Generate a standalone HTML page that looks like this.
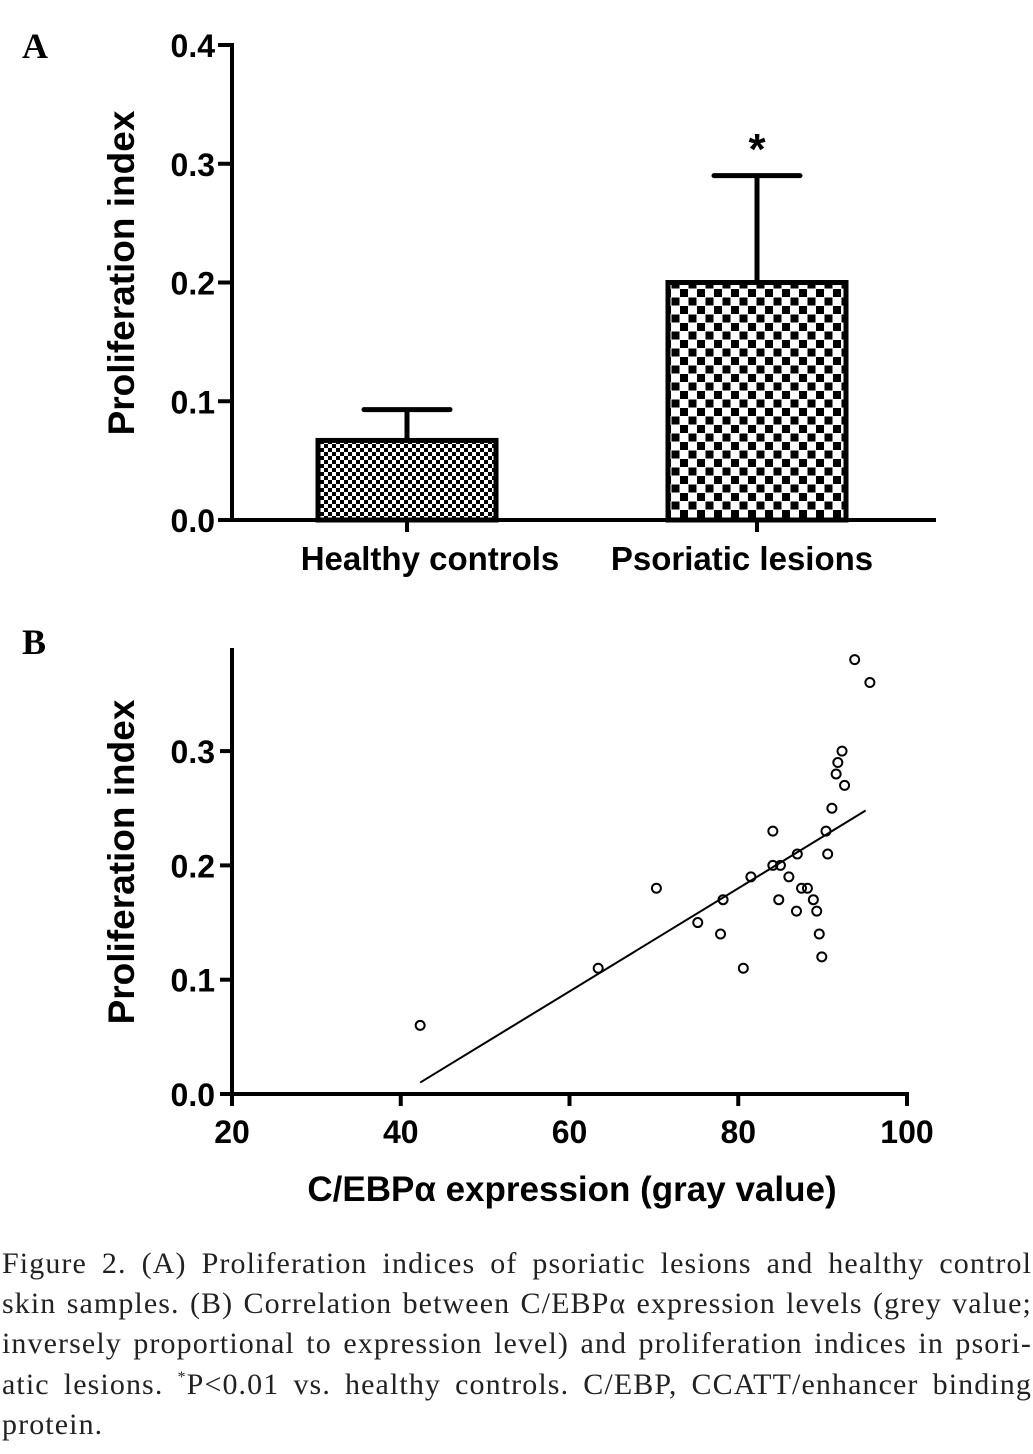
<!DOCTYPE html>
<html><head><meta charset="utf-8">
<style>
body{margin:0;background:#fff;width:1033px;height:1454px;overflow:hidden;position:relative}
svg{position:absolute;left:0;top:0}
.cap{position:absolute;left:2px;top:1244px;width:1030px;font-family:"Liberation Serif",serif;font-size:30px;line-height:40.2px;color:#222;letter-spacing:1.1px}
.cap div{text-align:justify;text-align-last:justify;white-space:nowrap;height:40.2px}
.cap div.last{text-align-last:left}
.cap sup{font-size:16px;line-height:0;vertical-align:12px}
</style></head>
<body>
<svg id="fig" width="1033" height="1240">
<defs>
<pattern id="pSmall" width="8" height="8" patternUnits="userSpaceOnUse"><rect width="8" height="8" fill="#fff"/><rect x="0" y="0" width="4" height="4" fill="#000"/><rect x="4" y="4" width="4" height="4" fill="#000"/></pattern>
<pattern id="pLarge" width="17" height="17" patternUnits="userSpaceOnUse"><rect width="17" height="17" fill="#fff"/><rect x="0" y="0" width="8" height="8" fill="#000"/><rect x="8.5" y="8.5" width="8" height="8" fill="#000"/></pattern>
</defs>
</svg>
<div class="cap">
<div>Figure 2. (A) Proliferation indices of psoriatic lesions and healthy control</div>
<div>skin samples. (B) Correlation between C/EBPα expression levels (grey value;</div>
<div>inversely proportional to expression level) and proliferation indices in psori-</div>
<div>atic lesions. <sup>*</sup>P&lt;0.01 vs. healthy controls. C/EBP, CCATT/enhancer binding</div>
<div class="last">protein.</div>
</div>
<script>
const barCats=["Healthy controls","Psoriatic lesions"];
const barVals=[0.067,0.2];
const barErr=[0.026,0.09];
const aTicks=[0,0.1,0.2,0.3,0.4];
const scX=[42.3,63.4,70.3,75.2,77.9,78.2,80.6,81.5,84.1,84.1,85.0,84.8,86.0,86.9,87.0,87.5,88.2,88.9,89.3,89.6,89.9,90.4,90.6,91.1,91.6,91.8,92.3,92.6,93.8,95.6];
const scY=[0.06,0.11,0.18,0.15,0.14,0.17,0.11,0.19,0.23,0.20,0.20,0.17,0.19,0.16,0.21,0.18,0.18,0.17,0.16,0.14,0.12,0.23,0.21,0.25,0.28,0.29,0.30,0.27,0.38,0.36];
const fitX=[42.3,95.1];
const fitY=[0.01,0.248];
const bYTicks=[0,0.1,0.2,0.3];
const bXTicks=[20,40,60,80,100];

const svg=document.getElementById('fig');const NS='http://www.w3.org/2000/svg';
function mk(t,a,p){const e=document.createElementNS(NS,t);for(const k in a)e.setAttribute(k,a[k]);(p||svg).appendChild(e);return e;}
const F='"Liberation Sans",Arial,sans-serif';
// Panel A
const ayA=v=>520-v*1187.5;
const bxA=[318,668],bw=178;
const labX=[430,742];
let t=mk('text',{x:22,y:58,'font-family':'"Liberation Serif",serif','font-size':36,'font-weight':'bold'});t.textContent='A';


let l=mk('line',{x1:232,y1:43,x2:232,y2:522,stroke:'#000','stroke-width':4});


l=mk('line',{x1:230,y1:520,x2:936,y2:520,stroke:'#000','stroke-width':4});


aTicks.forEach(v=>{
 mk('line',{x1:218,y1:ayA(v),x2:232,y2:ayA(v),stroke:'#000','stroke-width':4});
 const tx=mk('text',{x:215,y:ayA(v)+12,'text-anchor':'end','font-family':F,'font-size':32,'font-weight':'bold'});tx.textContent=v.toFixed(1);
 
 
});
t=mk('text',{transform:'translate(134,273) rotate(-90)','text-anchor':'middle','font-family':F,'font-size':37,'font-weight':'bold'});t.textContent='Proliferation index';


barVals.forEach((v,i)=>{
 const x=bxA[i],cx=x+bw/2,top=ayA(v),et=ayA(v+barErr[i]);
 mk('line',{x1:cx,y1:top,x2:cx,y2:et,stroke:'#000','stroke-width':5});
 mk('line',{x1:cx-43,y1:et,x2:cx+43,y2:et,stroke:'#000','stroke-width':5,'stroke-linecap':'round'});
 const r=mk('rect',{x:x,y:top,width:bw,height:520-top,fill:i?'url(#pLarge)':'url(#pSmall)',stroke:'#000','stroke-width':5});
 
 
 mk('line',{x1:cx,y1:520,x2:cx,y2:532,stroke:'#000','stroke-width':4});
 const tx=mk('text',{x:labX[i],y:570,'text-anchor':'middle','font-family':F,'font-size':33,'font-weight':'bold'});tx.textContent=barCats[i];
 
 
});
t=mk('text',{x:bxA[1]+bw/2,y:164,'text-anchor':'middle','font-family':F,'font-size':44,'font-weight':'bold'});t.textContent='*';


// Panel B
const bx=v=>232+(v-20)*8.4375, by=v=>1094-v*1143;
t=mk('text',{x:22,y:654,'font-family':'"Liberation Serif",serif','font-size':36,'font-weight':'bold'});t.textContent='B';


l=mk('line',{x1:232,y1:648,x2:232,y2:1096,stroke:'#000','stroke-width':4});


l=mk('line',{x1:230,y1:1094,x2:909,y2:1094,stroke:'#000','stroke-width':4});


bYTicks.forEach(v=>{
 mk('line',{x1:220,y1:by(v),x2:232,y2:by(v),stroke:'#000','stroke-width':4});
 const tx=mk('text',{x:215,y:by(v)+12,'text-anchor':'end','font-family':F,'font-size':32,'font-weight':'bold'});tx.textContent=v.toFixed(1);
 
 
});
bXTicks.forEach(v=>{
 mk('line',{x1:bx(v),y1:1094,x2:bx(v),y2:1106,stroke:'#000','stroke-width':4});
 const tx=mk('text',{x:bx(v),y:1143,'text-anchor':'middle','font-family':F,'font-size':32,'font-weight':'bold'});tx.textContent=v;
 
 
});
t=mk('text',{transform:'translate(134,862) rotate(-90)','text-anchor':'middle','font-family':F,'font-size':37,'font-weight':'bold'});t.textContent='Proliferation index';


t=mk('text',{x:572,y:1201,'text-anchor':'middle','font-family':F,'font-size':35,'font-weight':'bold'});t.textContent='C/EBPα expression (gray value)';


l=mk('line',{x1:bx(fitX[0]),y1:by(fitY[0]),x2:bx(fitX[1]),y2:by(fitY[1]),stroke:'#000','stroke-width':2});


scX.forEach((x,i)=>{
 const c=mk('circle',{cx:bx(x),cy:by(scY[i]),r:4.5,fill:'none',stroke:'#000','stroke-width':2});
 
 
});
</script>
</body></html>
